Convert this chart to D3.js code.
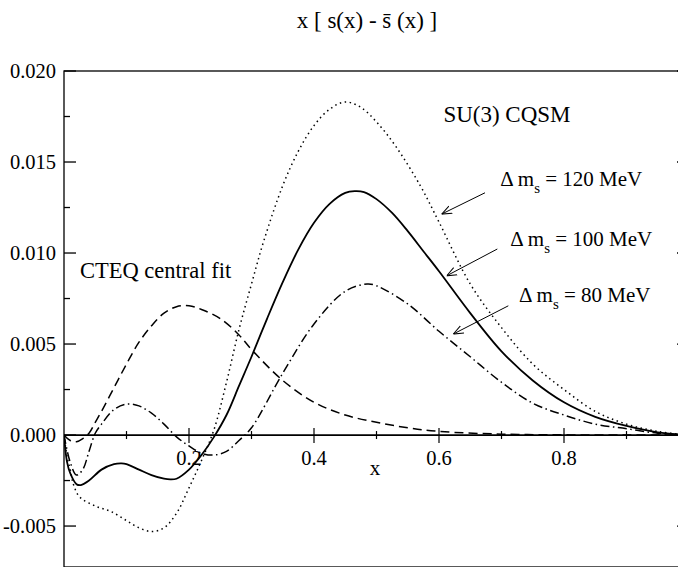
<!DOCTYPE html>
<html>
<head>
<meta charset="utf-8">
<script src="https://cdn.jsdelivr.net/npm/d3@7"></script>
<style>
  body { margin: 0; background: #fff; }
</style>
</head>
<body>
<div id="chart"></div>
<script>
// curves, one x/y pair of arrays per curve
var dashedX = [0, 0.01, 0.02, 0.03, 0.04, 0.05, 0.06, 0.08, 0.1, 0.12, 0.14, 0.16, 0.18, 0.2, 0.22, 0.25, 0.28, 0.3, 0.35, 0.4, 0.45, 0.5, 0.55, 0.6, 0.7, 0.8, 0.9, 1.0];
var dashedY = [0, -0.0003, -0.00037, -0.0002, 0.0001, 0.0007, 0.0013, 0.0026, 0.0039, 0.0051, 0.0060, 0.0067, 0.00705, 0.0071, 0.0069, 0.0064, 0.0055, 0.0047, 0.0030, 0.0018, 0.0011, 0.0007, 0.0004, 0.0002, 0.00005, 0.00001, 0, 0];

var dashdotX = [0, 0.01, 0.02, 0.03, 0.04, 0.05, 0.06, 0.08, 0.1, 0.12, 0.14, 0.16, 0.18, 0.2, 0.22, 0.24, 0.26, 0.28, 0.3, 0.35, 0.4, 0.45, 0.485, 0.5, 0.55, 0.6, 0.65, 0.7, 0.75, 0.8, 0.85, 0.9, 0.95, 1.0];
var dashdotY = [0, -0.0015, -0.0022, -0.0019, -0.0009, 0.0001, 0.0006, 0.0014, 0.0017, 0.0016, 0.0012, 0.0006, -0.0001, -0.0006, -0.0010, -0.0011, -0.0009, -0.0003, 0.0004, 0.0034, 0.0061, 0.0079, 0.0083, 0.0082, 0.0072, 0.0057, 0.0043, 0.0029, 0.00175, 0.0011, 0.0006, 0.00035, 0.0001, 0];

var solidX = [0, 0.005, 0.01, 0.02, 0.027, 0.04, 0.06, 0.08, 0.092, 0.1, 0.12, 0.14, 0.16, 0.17, 0.18, 0.2, 0.22, 0.24, 0.26, 0.28, 0.3, 0.325, 0.35, 0.375, 0.4, 0.425, 0.45, 0.465, 0.48, 0.5, 0.525, 0.55, 0.575, 0.6, 0.65, 0.7, 0.75, 0.8, 0.85, 0.9, 0.95, 1.0];
var solidY = [0, -0.0015, -0.0021, -0.0027, -0.00275, -0.0025, -0.0019, -0.0016, -0.00156, -0.0016, -0.0019, -0.0022, -0.0024, -0.00244, -0.0024, -0.0019, -0.0011, -0.0001, 0.0011, 0.0027, 0.0043, 0.0064, 0.0084, 0.0102, 0.01166, 0.0127, 0.0133, 0.0134, 0.01335, 0.01296, 0.0122, 0.0112, 0.0101, 0.0090, 0.0067, 0.0046, 0.0030, 0.0018, 0.0010, 0.0005, 0.00015, 0];

var dottedX = [0, 0.005, 0.01, 0.015, 0.025, 0.05, 0.075, 0.1, 0.12, 0.14, 0.16, 0.18, 0.2, 0.22, 0.24, 0.26, 0.28, 0.3, 0.32, 0.35, 0.375, 0.4, 0.425, 0.45, 0.475, 0.5, 0.53, 0.57, 0.6, 0.65, 0.7, 0.75, 0.8, 0.85, 0.9, 0.95, 1.0];
var dottedY = [0, -0.0012, -0.0019, -0.0027, -0.0034, -0.0039, -0.0042, -0.0047, -0.0051, -0.0053, -0.0051, -0.0043, -0.0029, -0.0014, 0.0003, 0.0029, 0.0058, 0.0083, 0.0107, 0.0137, 0.0156, 0.0170, 0.0179, 0.0183, 0.0180, 0.0172, 0.0159, 0.0137, 0.0117, 0.0083, 0.0059, 0.0039, 0.0025, 0.0013, 0.0006, 0.0002, 0];

var yMajor = [-0.005, 0, 0.005, 0.010, 0.015, 0.020];
var yMinor = [-0.0025, 0.0025, 0.0075, 0.0125, 0.0175];
var yLabels = ["-0.005", "0.000", "0.005", "0.010", "0.015", "0.020"];
var xMajor = [0.2, 0.4, 0.6, 0.8];
var xMinor = [0.1, 0.3, 0.5, 0.7, 0.9];
var xLabels = ["0.2", "0.4", "0.6", "0.8"];

var annotations = [
    { text: "120 MeV", x: 0.698, y: 0.0137, gap: "" },
    { text: "100 MeV", x: 0.714, y: 0.0104, gap: " " },
    { text: "80 MeV", x: 0.728, y: 0.0073, gap: " " }
];
var arrows = [
    { x1: 0.6736, y1: 0.01331, x2: 0.6043, y2: 0.01214 },
    { x1: 0.6933, y1: 0.01022, x2: 0.6123, y2: 0.00875 },
    { x1: 0.7109, y1: 0.0071, x2: 0.6229, y2: 0.00555 }
];

var serif = "'Liberation Serif', 'DejaVu Serif', serif";
var margin = { top: 71, left: 64 };
var width = 625, height = 496;

var svg = d3.select("#chart").append("svg")
    .attr("width", 678)
    .attr("height", 567)
    .attr("font-family", serif);

var defs = svg.append("defs");
defs.append("clipPath").attr("id", "clip")
    .append("rect").attr("width", width).attr("height", height);

defs.append("marker")
    .attr("id", "arrow")
    .attr("viewBox", "0 0 10 10")
    .attr("refX", 10).attr("refY", 5)
    .attr("markerWidth", 10).attr("markerHeight", 10)
    .attr("markerUnits", "userSpaceOnUse")
    .attr("orient", "auto")
    .append("path")
    .attr("d", "M0,1 L10,5 L0,9")
    .attr("fill", "none")
    .attr("stroke", "#000")
    .attr("stroke-width", 1);

var g = svg.append("g")
    .attr("transform", "translate(" + margin.left + "," + margin.top + ")");

var x = d3.scaleLinear().domain([0, 1]).range([0, width]);
var y = d3.scaleLinear().domain([-0.00725, 0.02]).range([height, 0]);

// frame
g.append("rect")
    .attr("width", width).attr("height", height)
    .attr("fill", "none").attr("stroke", "#000").attr("stroke-width", 1.3);

// y ticks, both sides, pointing inward
[0, width].forEach(function(side){
    var dir = side == 0 ? 1 : -1;
    g.selectAll(null).data(yMajor).enter().append("line")
        .attr("x1", side).attr("x2", side + dir * 12)
        .attr("y1", function(d){ return y(d); }).attr("y2", function(d){ return y(d); })
        .attr("stroke", "#000").attr("stroke-width", 1.3);
    g.selectAll(null).data(yMinor).enter().append("line")
        .attr("x1", side).attr("x2", side + dir * 6)
        .attr("y1", function(d){ return y(d); }).attr("y2", function(d){ return y(d); })
        .attr("stroke", "#000").attr("stroke-width", 1.3);
});

g.selectAll(".ylab").data(yMajor).enter().append("text")
    .attr("class", "ylab")
    .attr("x", -8)
    .attr("y", function(d){ return y(d); })
    .attr("dy", "0.35em")
    .attr("text-anchor", "end")
    .attr("font-size", 20.5)
    .text(function(d, i){ return yLabels[i]; });

// zero line acting as x axis
g.append("line")
    .attr("x1", 0).attr("x2", width)
    .attr("y1", y(0)).attr("y2", y(0))
    .attr("stroke", "#000").attr("stroke-width", 1.8);

g.selectAll(null).data(xMajor).enter().append("line")
    .attr("x1", function(d){ return x(d); }).attr("x2", function(d){ return x(d); })
    .attr("y1", y(0) - 7).attr("y2", y(0) + 8)
    .attr("stroke", "#000").attr("stroke-width", 1.2);
g.selectAll(null).data(xMinor).enter().append("line")
    .attr("x1", function(d){ return x(d); }).attr("x2", function(d){ return x(d); })
    .attr("y1", y(0) - 4).attr("y2", y(0) + 4)
    .attr("stroke", "#000").attr("stroke-width", 1.2);

g.selectAll(".xlab").data(xMajor).enter().append("text")
    .attr("class", "xlab")
    .attr("x", function(d){ return x(d); })
    .attr("y", y(0) + 30)
    .attr("text-anchor", "middle")
    .attr("font-size", 20.5)
    .text(function(d, i){ return xLabels[i]; });

g.append("text")
    .attr("x", 311).attr("y", y(0) + 40)
    .attr("text-anchor", "middle")
    .attr("font-size", 21)
    .text("x");

// curves
var line = d3.line()
    .x(function(d){ return x(d[0]); })
    .y(function(d){ return y(d[1]); })
    .curve(d3.curveCatmullRom.alpha(0.5));

var series = [
    { xs: dashedX, ys: dashedY, dash: "9,5", w: 1.5 },
    { xs: dashdotX, ys: dashdotY, dash: "9,3.5,1.5,3.5", w: 1.5 },
    { xs: solidX, ys: solidY, dash: null, w: 1.8 },
    { xs: dottedX, ys: dottedY, dash: "1.5,3.5", w: 1.5 }
];

var curves = g.append("g").attr("clip-path", "url(#clip)");
series.forEach(function(s){
    curves.append("path")
        .datum(s.xs.map(function(v, i){ return [v, s.ys[i]]; }))
        .attr("d", line)
        .attr("fill", "none")
        .attr("stroke", "#000")
        .attr("stroke-width", s.w)
        .attr("stroke-dasharray", s.dash);
});

// labels
svg.append("text")
    .attr("x", 367).attr("y", 28)
    .attr("text-anchor", "middle")
    .attr("font-size", 23)
    .text("x [ s(x) - s\u0304 (x) ]");

g.append("text")
    .attr("x", x(0.607)).attr("y", y(0.01721))
    .attr("font-size", 23)
    .text("SU(3) CQSM");

g.append("text")
    .attr("x", x(0.0256)).attr("y", y(0.00865))
    .attr("font-size", 22.5)
    .text("CTEQ central fit");

annotations.forEach(function(a){
    var t = g.append("text")
        .attr("x", x(a.x)).attr("y", y(a.y))
        .attr("font-size", 21);
    t.append("tspan").text("\u0394 m");
    t.append("tspan").attr("dy", 7).attr("font-size", 15).text("s");
    t.append("tspan").attr("dy", -7).text(a.gap + " = " + a.text);
});

g.selectAll(".arrow").data(arrows).enter().append("line")
    .attr("class", "arrow")
    .attr("x1", function(d){ return x(d.x1); }).attr("y1", function(d){ return y(d.y1); })
    .attr("x2", function(d){ return x(d.x2); }).attr("y2", function(d){ return y(d.y2); })
    .attr("stroke", "#000").attr("stroke-width", 1)
    .attr("marker-end", "url(#arrow)");
</script>
</body>
</html>
